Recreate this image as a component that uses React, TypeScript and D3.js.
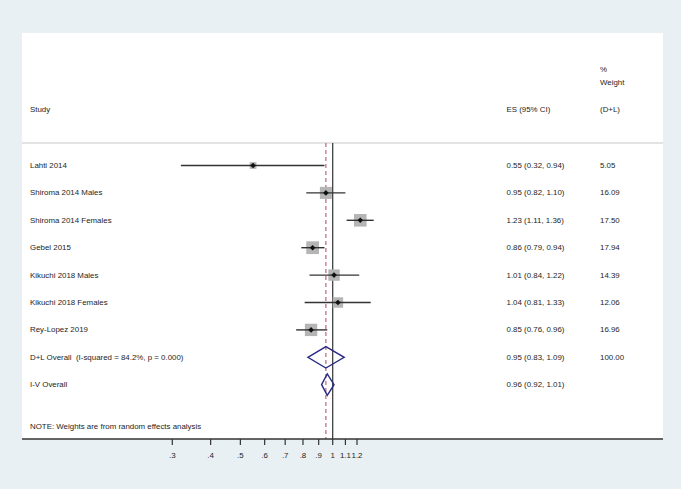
import React from "react";
import * as d3 from "d3";

const studies = ["Lahti 2014", "Shiroma 2014 Males", "Shiroma 2014 Females", "Gebel 2015", "Kikuchi 2018 Males", "Kikuchi 2018 Females", "Rey-Lopez 2019"];
const es = [0.55, 0.95, 1.23, 0.86, 1.01, 1.04, 0.85];
const lo = [0.32, 0.82, 1.11, 0.79, 0.84, 0.81, 0.76];
const hi = [0.94, 1.10, 1.36, 0.94, 1.22, 1.33, 0.96];
const weights = ["5.05", "16.09", "17.50", "17.94", "14.39", "12.06", "16.96"];

const overallLabels = ["D+L Overall  (I-squared = 84.2%, p = 0.000)", "I-V Overall"];
const overallEs = [0.95, 0.96];
const overallLo = [0.83, 0.92];
const overallHi = [1.09, 1.01];
const overallWeights = ["100.00", ""];

const tickValues = [0.3, 0.4, 0.5, 0.6, 0.7, 0.8, 0.9, 1, 1.1, 1.2];
const tickLabels = [".3", ".4", ".5", ".6", ".7", ".8", ".9", "1", "1.1", "1.2"];

const fmt = (v: number) => v.toFixed(2);

export default function App() {
  const W = 681, H = 489;
  const x = d3.scaleLog().domain([0.3, 1.2]).range([172.3, 357.0]);
  const rowY = (i: number) => 165.5 + i * 27.4;
  const panelL = 22, panelR = 663, panelT = 33, axisY = 439;
  const font = "'Liberation Sans', Arial, sans-serif";
  const fs = 7.9;
  const txt = "#1e1e1e";
  const colES = 506.5, colW = 600;

  return (
    <svg width={W} height={H} style={{ position: "absolute", left: 0, top: 0, display: "block" }} fontFamily={font}>
      <rect x={0} y={0} width={W} height={H} fill="#e8f0f3" />
      <rect x={panelL} y={panelT} width={panelR - panelL} height={axisY - panelT} fill="#ffffff" />

      {/* header */}
      <text x={colW} y={69.5} fontSize={fs} fill={txt} dominantBaseline="central">%</text>
      <text x={colW} y={82} fontSize={fs} fill={txt} dominantBaseline="central">Weight</text>
      <text x={30} y={109.5} fontSize={fs} fill={txt} dominantBaseline="central">Study</text>
      <text x={colES} y={109.5} fontSize={fs} fill={txt} dominantBaseline="central">ES (95% CI)</text>
      <text x={colW} y={109.5} fontSize={fs} fill={txt} dominantBaseline="central">(D+L)</text>
      <line x1={panelL} x2={panelR} y1={143} y2={143} stroke="#c8c8c8" strokeWidth={1.2} />

      {/* reference lines */}
      <line x1={x(1)} x2={x(1)} y1={143} y2={axisY} stroke="#333" strokeWidth={1.2} />
      <line x1={x(overallEs[0])} x2={x(overallEs[0])} y1={143} y2={axisY} stroke="#c4707f" strokeWidth={1.3} strokeDasharray="4,3" />

      {/* studies */}
      {studies.map((s, i) => {
        const y = rowY(i);
        const side = 3 * Math.sqrt(parseFloat(weights[i]));
        const cx = x(es[i]);
        return (
          <g key={s}>
            <text x={30} y={y} fontSize={fs} fill={txt} dominantBaseline="central">{s}</text>
            <rect x={cx - side / 2} y={y - side / 2} width={side} height={side} fill="#b5b5b5" />
            <line x1={x(lo[i])} x2={x(hi[i])} y1={y} y2={y} stroke="#333" strokeWidth={1.4} />
            <path d={`M${cx - 2.8},${y} L${cx},${y - 2.8} L${cx + 2.8},${y} L${cx},${y + 2.8} Z`} fill="#111" />
            <text x={colES} y={y} fontSize={fs} fill={txt} dominantBaseline="central">{`${fmt(es[i])} (${fmt(lo[i])}, ${fmt(hi[i])})`}</text>
            <text x={colW} y={y} fontSize={fs} fill={txt} dominantBaseline="central">{weights[i]}</text>
          </g>
        );
      })}

      {/* overall */}
      {overallLabels.map((s, j) => {
        const y = rowY(studies.length + j);
        const h = 10.7;
        const d = `M${x(overallLo[j])},${y} L${x(overallEs[j])},${y - h} L${x(overallHi[j])},${y} L${x(overallEs[j])},${y + h} Z`;
        return (
          <g key={s}>
            <text x={30} y={y} fontSize={fs} fill={txt} dominantBaseline="central" style={{ whiteSpace: "pre" }}>{s}</text>
            <path d={d} fill="none" stroke="#2a2a86" strokeWidth={1.4} />
            <text x={colES} y={y} fontSize={fs} fill={txt} dominantBaseline="central">{`${fmt(overallEs[j])} (${fmt(overallLo[j])}, ${fmt(overallHi[j])})`}</text>
            {overallWeights[j] && <text x={colW} y={y} fontSize={fs} fill={txt} dominantBaseline="central">{overallWeights[j]}</text>}
          </g>
        );
      })}

      <text x={30} y={426} fontSize={fs} fill={txt} dominantBaseline="central">NOTE: Weights are from random effects analysis</text>

      {/* axis */}
      <line x1={panelL} x2={panelR} y1={axisY} y2={axisY} stroke="#333" strokeWidth={1.3} />
      {tickValues.map((v, i) => (
        <g key={v}>
          <line x1={x(v)} x2={x(v)} y1={axisY} y2={axisY + 6} stroke="#333" strokeWidth={1.2} />
          <text x={x(v)} y={455} fontSize={fs} fill={txt} textAnchor="middle" dominantBaseline="central">{tickLabels[i]}</text>
        </g>
      ))}
    </svg>
  );
}
